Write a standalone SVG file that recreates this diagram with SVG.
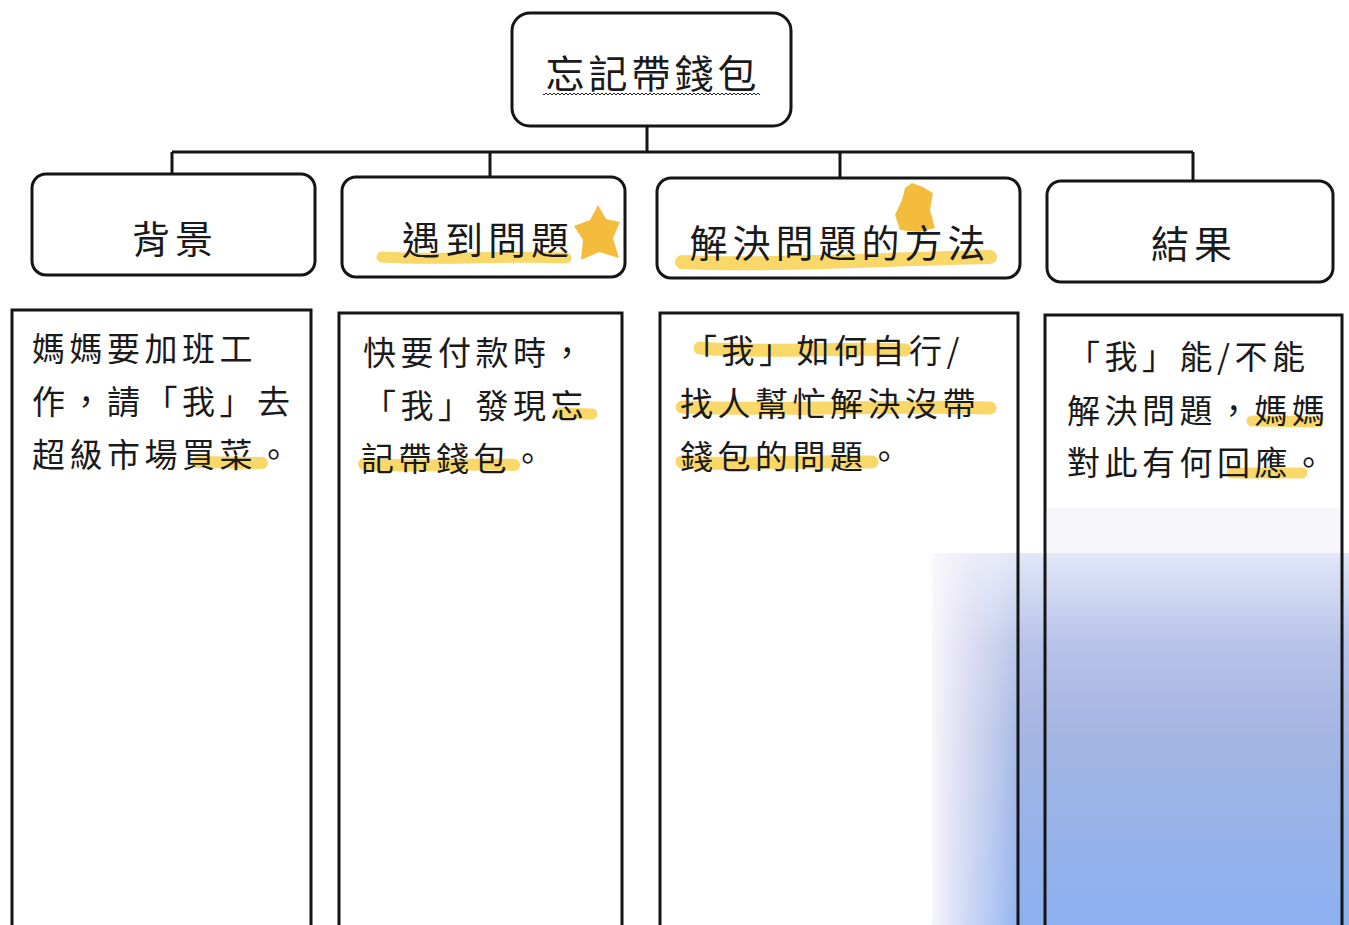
<svg xmlns="http://www.w3.org/2000/svg" width="1349" height="925" viewBox="0 0 1349 925">
<style>
.box{fill:none;stroke:#151515;stroke-width:3}
.line{fill:none;stroke:#151515;stroke-width:3}
.title{font-family:"Noto Sans CJK TC","Noto Sans CJK SC",sans-serif;font-size:39px;fill:#1a1a1a;letter-spacing:4px}
.head{font-family:"Noto Sans CJK TC","Noto Sans CJK SC",sans-serif;font-size:38px;fill:#1a1a1a;letter-spacing:5px}
.body{font-family:"Noto Sans CJK TC","Noto Sans CJK SC",sans-serif;font-size:33px;fill:#1a1a1a;letter-spacing:4.5px}
.hl{fill:none;stroke:#f6c62a;stroke-opacity:0.7;stroke-linecap:round;stroke-linejoin:round}
.blob{fill:#f2b01a;fill-opacity:0.85}
</style>
<defs>
<linearGradient id="blueV" x1="0" y1="0" x2="0" y2="1">
<stop offset="0" stop-color="#e2e7f8"/>
<stop offset="0.25" stop-color="#b6c2e8"/>
<stop offset="0.5" stop-color="#a3b5e3"/>
<stop offset="1" stop-color="#8cb0f0"/>
</linearGradient>
<linearGradient id="fadeH" x1="0" y1="0" x2="1" y2="0">
<stop offset="0" stop-color="#fdf8fc" stop-opacity="0.95"/>
<stop offset="0.5" stop-color="#f2eef9" stop-opacity="0.55"/>
<stop offset="1" stop-color="#ffffff" stop-opacity="0"/>
</linearGradient>
<pattern id="wave" x="0" y="0" width="4" height="4" patternUnits="userSpaceOnUse">
<path d="M0,3 L2,1 L4,3" fill="none" stroke="#222" stroke-width="1"/>
</pattern>
</defs>
<rect x="0" y="0" width="1349" height="925" fill="#ffffff"/>
<g id="background-tint">
<rect x="1047" y="508" width="294" height="45" fill="#f6f6fb"/>
<rect x="932" y="553" width="417" height="372" fill="url(#blueV)"/>
<rect x="932" y="553" width="90" height="372" fill="url(#fadeH)"/>
</g>
<g id="highlights">
<path class="hl" d="M382,257 C440,261 510,255 566,258" stroke-width="11"/>
<path class="hl" d="M682,262 C760,266 860,260 990,257" stroke-width="14"/>
<path class="hl" d="M198,462 L262,463" stroke-width="12"/>
<path class="hl" d="M560,413 L592,414" stroke-width="11"/>
<path class="hl" d="M364,464 C420,468 470,463 514,465" stroke-width="12"/>
<path class="hl" d="M700,348 C770,354 840,347 905,350" stroke-width="13"/>
<path class="hl" d="M682,407 C780,411 890,405 990,408" stroke-width="13"/>
<path class="hl" d="M682,462 C740,466 810,460 872,462" stroke-width="13"/>
<path class="hl" d="M1252,421 L1318,422" stroke-width="11"/>
<path class="hl" d="M1232,473 L1302,473" stroke-width="11"/>
<path class="blob" d="M598,205 L606,219 L620,222 L613,238 L619,258 L599,252 L581,260 L583,240 L574,226 L590,220 Z"/>
<path class="blob" d="M912,183 L923,187 L933,193 L930,210 L935,228 L918,232 L900,230 L895,215 L902,200 L905,188 Z"/>
</g>
<g id="connectors">
<path class="line" d="M647,127 V152"/>
<path class="line" d="M172,152 H1193"/>
<path class="line" d="M172,152 V175"/>
<path class="line" d="M490,152 V177"/>
<path class="line" d="M840,152 V178"/>
<path class="line" d="M1193,152 V181"/>
</g>
<g id="node-root">
<rect class="box" x="512" y="13" width="279" height="113" rx="18"/>
<text class="title" x="653" y="88" text-anchor="middle">忘記帶錢包</text>
<rect x="543" y="92" width="217" height="4" fill="url(#wave)"/>
</g>
<g id="node-background">
<rect class="box" x="32" y="174" width="283" height="101" rx="14"/>
<text class="head" x="175" y="253" text-anchor="middle">背景</text>
</g>
<g id="node-problem">
<rect class="box" x="342" y="177" width="283" height="100" rx="14"/>
<text class="head" x="488" y="254" text-anchor="middle">遇到問題</text>
</g>
<g id="node-solution">
<rect class="box" x="657" y="178" width="363" height="100" rx="14"/>
<text class="head" x="840" y="257" text-anchor="middle">解決問題的方法</text>
</g>
<g id="node-result">
<rect class="box" x="1047" y="181" width="286" height="101" rx="14"/>
<text class="head" x="1194" y="258" text-anchor="middle">結果</text>
</g>
<g id="node-background-detail">
<rect class="box" x="12" y="310" width="299" height="640"/>
<text class="body" x="32" y="361">媽媽要加班工</text>
<text class="body" x="32" y="414">作，請「我」去</text>
<text class="body" x="32" y="467">超級市場買菜。</text>
</g>
<g id="node-problem-detail">
<rect class="box" x="339" y="313" width="283" height="640"/>
<text class="body" x="363" y="365">快要付款時，</text>
<text class="body" x="363" y="418">「我」發現忘</text>
<text class="body" x="361" y="471">記帶錢包。</text>
</g>
<g id="node-solution-detail">
<rect class="box" x="660" y="313" width="358" height="640"/>
<text class="body" x="684" y="363">「我」如何自行/</text>
<text class="body" x="680" y="416">找人幫忙解決沒帶</text>
<text class="body" x="680" y="469">錢包的問題。</text>
</g>
<g id="node-result-detail">
<rect class="box" x="1045" y="315" width="297" height="640"/>
<text class="body" x="1067" y="369">「我」能/不能</text>
<text class="body" x="1067" y="423">解決問題，媽媽</text>
<text class="body" x="1067" y="475">對此有何回應。</text>
</g>
</svg>
